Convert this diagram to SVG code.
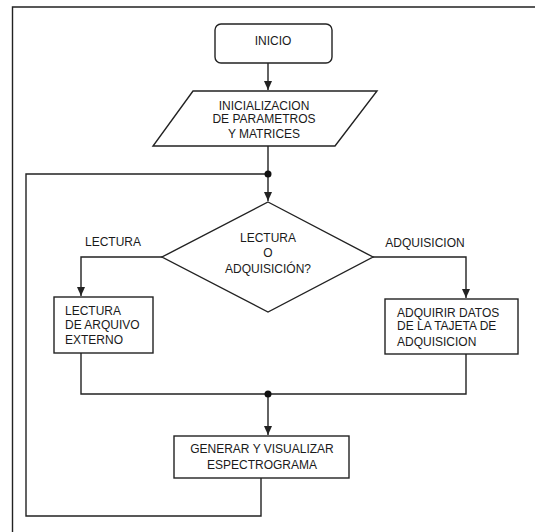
<svg xmlns="http://www.w3.org/2000/svg" width="535" height="532" viewBox="0 0 535 532">
<defs>
<style>
.s{fill:#fff;stroke:#222;stroke-width:1.4}
.c{fill:none;stroke:#222;stroke-width:1.4}
text{font-family:"Liberation Sans",Arial,sans-serif;font-size:12px;fill:#1a1a1a}
.m{text-anchor:middle}
</style>
<marker id="a" markerWidth="10" markerHeight="8" refX="9" refY="4" orient="auto" markerUnits="userSpaceOnUse">
<path d="M0,0 L9,4 L0,8 z" fill="#222"/>
</marker>
</defs>
<rect width="535" height="532" fill="#fff"/>
<path class="c" d="M535,7 H12.5 V532"/>
<g id="connectors">
<path class="c" d="M268,63 V90" marker-end="url(#a)"/>
<path class="c" d="M268,146 V201" marker-end="url(#a)"/>
<path class="c" d="M162,257 H81 V296" marker-end="url(#a)"/>
<path class="c" d="M373,257 H466 V298" marker-end="url(#a)"/>
<path class="c" d="M81,353 V394 H466 V354"/>
<path class="c" d="M268,394 V435" marker-end="url(#a)"/>
<path class="c" d="M261,478 V516 H26 V174 H268"/>
<circle cx="268" cy="174" r="3.5" fill="#111"/>
<circle cx="268" cy="394" r="3.5" fill="#111"/>
<text x="113" y="246" class="m">LECTURA</text>
<text x="425" y="247" class="m">ADQUISICION</text>
</g>
<g id="inicio">
<rect class="s" x="215" y="24" width="117" height="39" rx="6"/>
<text x="273" y="45" class="m">INICIO</text>
</g>
<g id="inicializacion">
<path class="s" d="M193,91 H377 L335,146 H153 Z"/>
<text x="264" y="110" class="m">INICIALIZACION</text>
<text x="264" y="123" class="m">DE PARAMETROS</text>
<text x="264" y="138" class="m">Y MATRICES</text>
</g>
<g id="decision">
<path class="s" d="M268,202 L373,257 L268,312 L162,257 Z"/>
<text x="268" y="242" class="m">LECTURA</text>
<text x="268" y="257" class="m">O</text>
<text x="268" y="273" class="m">ADQUISICIÓN?</text>
</g>
<g id="lectura">
<rect class="s" x="54" y="297" width="99" height="56"/>
<text x="65" y="315">LECTURA</text>
<text x="65" y="329">DE ARQUIVO</text>
<text x="65" y="344">EXTERNO</text>
</g>
<g id="adquirir">
<rect class="s" x="385" y="299" width="133" height="55"/>
<text x="397" y="317">ADQUIRIR DATOS</text>
<text x="397" y="330">DE LA TAJETA DE</text>
<text x="397" y="346">ADQUISICION</text>
</g>
<g id="generar">
<rect class="s" x="174" y="436" width="175" height="42"/>
<text x="262" y="453" class="m">GENERAR Y VISUALIZAR</text>
<text x="262" y="469" class="m">ESPECTROGRAMA</text>
</g>
</svg>
